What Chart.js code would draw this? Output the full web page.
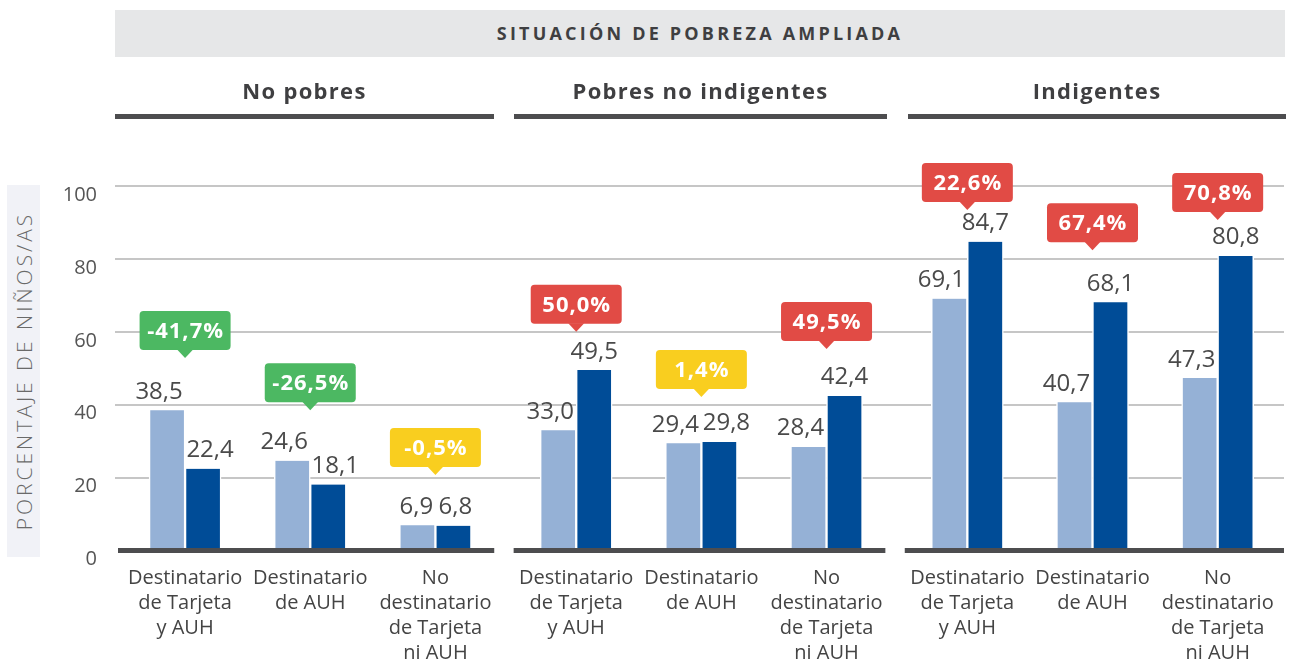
<!DOCTYPE html>
<html lang="es">
<head>
<meta charset="utf-8">
<title>Situación de pobreza ampliada</title>
<script src="https://cdn.jsdelivr.net/npm/chart.js@4.4.1/dist/chart.umd.min.js"></script>
<style>
  html, body { margin: 0; padding: 0; background: #fff; }
  #wrap { position: relative; width: 1295px; height: 666px; color: #3f3f41; }
  #wrap canvas { position: absolute; left: 0; top: 0; }
  .header {
    position: absolute; left: 115px; top: 10px; width: 1170px; height: 47px;
    background: #e6e7e8; text-align: center;
    font: 700 18px 'Open Sans', sans-serif; line-height: 47px; letter-spacing: 3.2px;
  }
  .group {
    position: absolute; top: 70px; height: 44px;
    border-bottom: 5px solid #4d4d4f; text-align: center;
    font: 700 22px 'Open Sans', sans-serif; line-height: 40px; letter-spacing: 1.3px;
  }
  .ytitle { position: absolute; left: 7px; top: 185px; width: 33px; height: 372px; background: #f1f2f7; }
  .ytitle span {
    position: absolute; left: 50%; top: 50%; white-space: nowrap;
    transform: translate(-50%, -50%) rotate(-90deg);
    font: 300 21px 'Open Sans', sans-serif; letter-spacing: 3px; color: #6a6a6a;
  }
</style>
</head>
<body>
<div id="wrap">
  <canvas id="chart" width="1295" height="666"></canvas>
  <div class="header">SITUACIÓN DE POBREZA AMPLIADA</div>
  <div class="ytitle"><span>PORCENTAJE DE NIÑOS/AS</span></div>
</div>
<script>
// data
const groups = ['No pobres', 'Pobres no indigentes', 'Indigentes'];
const categories = [
  ['Destinatario', 'de Tarjeta', 'y AUH'],
  ['Destinatario', 'de AUH'],
  ['No', 'destinatario', 'de Tarjeta', 'ni AUH']
];
const before = [38.5, 24.6, 6.9, 33.0, 29.4, 28.4, 69.1, 40.7, 47.3];
const after = [22.4, 18.1, 6.8, 49.5, 29.8, 42.4, 84.7, 68.1, 80.8];
const change = [-41.7, -26.5, -0.5, 50.0, 1.4, 49.5, 22.6, 67.4, 70.8];
const badgeAt = [52.8, 38.5, 20.7, 60.0, 42.1, 55.3, 93.4, 82.4, 90.7];
const yTicks = [0, 20, 40, 60, 80, 100];

// layout
const GROUP_GAP = 0.125;
const groupSpan = [[115, 494], [514, 887], [908, 1286]];
const slots = before.map((v, i) => i + Math.floor(i / 3) * GROUP_GAP);
const labels = groups.flatMap(() => categories);

const fmt = v => v.toFixed(1).replace('.', ',');

const wrap = document.getElementById('wrap');
groups.forEach((name, g) => {
  const div = document.createElement('div');
  div.className = 'group';
  div.style.left = groupSpan[g][0] + 'px';
  div.style.width = (groupSpan[g][1] - groupSpan[g][0]) + 'px';
  div.textContent = name;
  wrap.appendChild(div);
});

function badgeColor(v) {
  if (Math.abs(v) < 5) return '#f9ce1f';
  return v < 0 ? '#4cb862' : '#e14b45';
}

// nudge value labels apart where the two bars are close in height
function labelShift(d, i) {
  if (before[i] < 10) return d === 0 ? -1 : 2;
  if (d === 0) return -8;
  return after[i] < before[i] + 5 ? 7 : 0;
}

const annotations = {
  id: 'annotations',
  beforeDatasetsDraw(chart) {
    const ctx = chart.ctx;
    ctx.save();
    ctx.font = '24px "Open Sans"';
    ctx.fillStyle = '#4a4a4a';
    ctx.textAlign = 'center';
    ctx.textBaseline = 'alphabetic';
    chart.data.datasets.forEach((ds, d) => {
      chart.getDatasetMeta(d).data.forEach((bar, i) => {
        ctx.fillText(fmt(ds.data[i].y), bar.x + labelShift(d, i), bar.y - 11.5);
      });
    });
    ctx.restore();
  },
  afterDatasetsDraw(chart) {
    const ctx = chart.ctx;
    const xs = chart.scales.x;
    const ys = chart.scales.y;
    const area = chart.chartArea;
    ctx.save();
    // baselines per group
    ctx.strokeStyle = '#4d4d4f';
    ctx.lineWidth = 5;
    const y0 = ys.getPixelForValue(0);
    groups.forEach((name, g) => {
      let x0 = xs.getPixelForValue(slots[g * 3] - 0.5);
      let x1 = xs.getPixelForValue(slots[g * 3 + 2] + 0.47);
      if (g === 0) x0 = area.left + 3;
      if (g === groups.length - 1) x1 = area.right;
      ctx.beginPath();
      ctx.moveTo(x0, y0);
      ctx.lineTo(x1, y0);
      ctx.stroke();
    });
    // change badges
    const w = 91, h = 39, r = 4, tip = 8;
    ctx.font = 'bold 22px "Open Sans"';
    ctx.letterSpacing = '1px';
    ctx.textAlign = 'center';
    ctx.textBaseline = 'middle';
    change.forEach((v, i) => {
      const cx = xs.getPixelForValue(slots[i]);
      const ty = ys.getPixelForValue(badgeAt[i]);
      const bottom = ty - tip;
      ctx.fillStyle = badgeColor(v);
      ctx.beginPath();
      ctx.roundRect(cx - w / 2, bottom - h, w, h, r);
      ctx.fill();
      ctx.beginPath();
      ctx.moveTo(cx - tip, bottom - 0.5);
      ctx.lineTo(cx + tip, bottom - 0.5);
      ctx.lineTo(cx, ty);
      ctx.closePath();
      ctx.fill();
      ctx.fillStyle = '#ffffff';
      ctx.fillText(fmt(v) + '%', cx + 0.5, bottom - h / 2 + 1);
    });
    ctx.restore();
  }
};

const barStyle = {
  borderColor: '#ffffff',
  borderWidth: { left: 1.5, right: 1.5, top: 0, bottom: 0 },
  barThickness: 36
};

new Chart(document.getElementById('chart'), {
  type: 'bar',
  data: {
    datasets: [
      Object.assign({ label: 'Antes', data: before.map((v, i) => ({ x: slots[i], y: v })), backgroundColor: '#95b1d6' }, barStyle),
      Object.assign({ label: 'Después', data: after.map((v, i) => ({ x: slots[i], y: v })), backgroundColor: '#004c97' }, barStyle)
    ]
  },
  options: {
    responsive: false,
    animation: false,
    layout: { padding: { top: 186, right: 11, left: 0, bottom: 0 } },
    plugins: { legend: { display: false }, tooltip: { enabled: false } },
    scales: {
      x: {
        type: 'linear',
        offset: false,
        min: -0.56,
        max: 8.78,
        grid: { display: false },
        border: { display: false },
        afterBuildTicks: axis => { axis.ticks = slots.map(v => ({ value: v })); },
        afterFit: axis => { axis.height = 115.5; },
        ticks: {
          autoSkip: false,
          maxRotation: 0,
          padding: 7,
          color: '#444',
          font: { family: 'Open Sans', size: 20, lineHeight: 1.25 },
          callback: (v, i) => labels[i]
        }
      },
      y: {
        min: 0,
        max: 100,
        afterBuildTicks: axis => { axis.ticks = yTicks.map(v => ({ value: v })); },
        afterFit: axis => { axis.width = 115; },
        grid: {
          drawTicks: false,
          lineWidth: 2,
          color: c => (c.tick && c.tick.value === 0) ? 'rgba(0,0,0,0)' : '#c6c6c6'
        },
        border: { display: false },
        ticks: {
          padding: 18,
          labelOffset: 9,
          color: '#555',
          font: { family: 'Open Sans', size: 20 }
        }
      }
    }
  },
  plugins: [annotations]
});
</script>
</body>
</html>
